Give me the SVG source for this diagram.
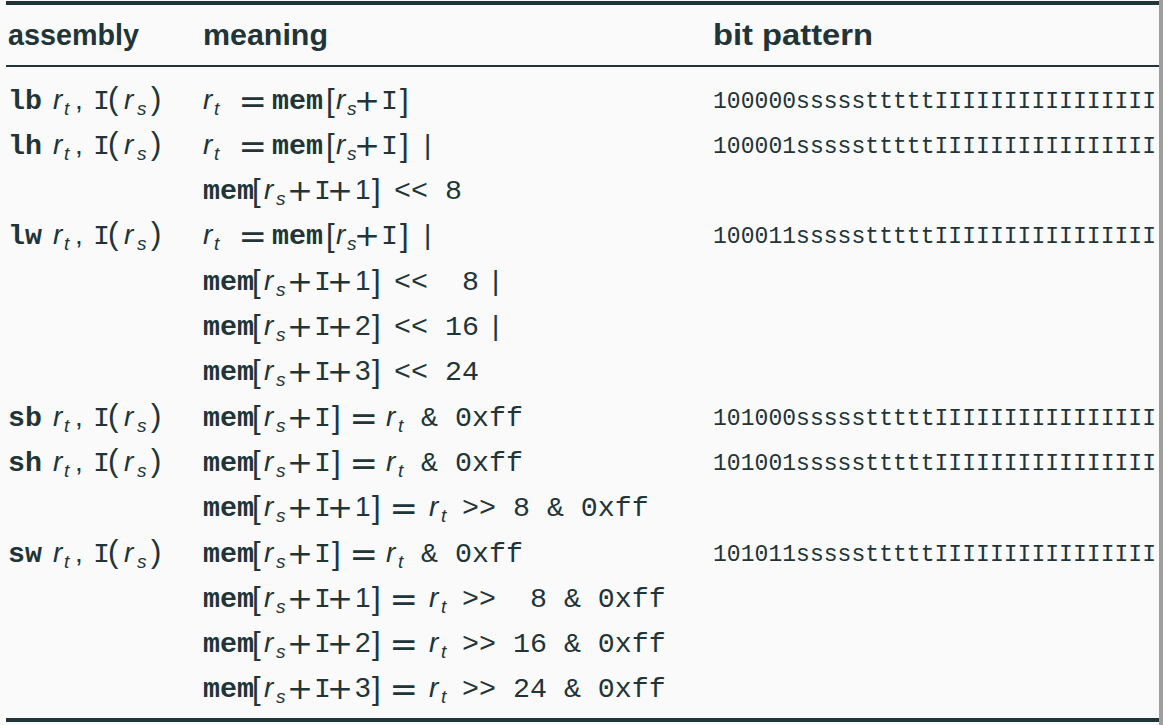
<svg xmlns="http://www.w3.org/2000/svg" width="1163" height="725" viewBox="0 0 1163 725">
<style>
text{fill:#213438;white-space:pre}
.tt{font-family:"Liberation Mono",monospace;font-size:28.3px}
.ttb{font-family:"Liberation Mono",monospace;font-size:28.3px;font-weight:bold}
.it{font-family:"Liberation Sans",sans-serif;font-style:italic;font-size:28px}
.sub{font-family:"Liberation Sans",sans-serif;font-style:italic;font-size:19px}
.op{font-family:"DejaVu Sans",sans-serif;font-size:31px}
.eq{font-family:"DejaVu Sans",sans-serif;font-size:34px}
.rm{font-family:"Liberation Sans",sans-serif;font-size:28px}
.br{font-family:"Liberation Sans",sans-serif;font-size:31px}
.hd{font-family:"Liberation Sans",sans-serif;font-size:30px;font-weight:bold}
.bits{font-family:"Liberation Mono",monospace;font-size:23px}
.rule{fill:#213438}
</style>
<rect width="1163" height="725" fill="#fafafa"/>
<rect x="1159" y="0" width="4" height="725" fill="#9e9e9e"/>
<g id="rules">
<rect class="rule" x="6" y="1" width="1153" height="4"/>
<rect class="rule" x="6" y="65" width="1153" height="2"/>
<rect class="rule" x="6" y="718" width="1153" height="4"/>
</g>
<g id="header">
<text class="hd" x="8" y="45" textLength="131" lengthAdjust="spacingAndGlyphs">assembly</text>
<text class="hd" x="203" y="45" textLength="125" lengthAdjust="spacingAndGlyphs">meaning</text>
<text class="hd" x="713" y="45" textLength="160" lengthAdjust="spacingAndGlyphs">bit pattern</text>
</g>

<g id="row-lb">
<g transform="translate(0,108.5)">
<text><tspan class="ttb" x="8" y="0">lb</tspan><tspan class="it" x="53" y="0">r</tspan><tspan class="sub" x="64" y="6">t</tspan><tspan class="rm" x="75" y="0">,</tspan><tspan class="tt" x="93" y="0">I</tspan><tspan class="br" x="108" y="0">(</tspan><tspan class="it" x="124" y="0">r</tspan><tspan class="sub" x="137" y="6">s</tspan><tspan class="br" x="151" y="0">)</tspan></text>
<text><tspan class="it" x="203" y="0">r</tspan><tspan class="sub" x="214" y="6">t</tspan><tspan class="eq" x="238.5" y="4">=</tspan><tspan class="ttb" x="272" y="0">mem</tspan><tspan class="br" x="326" y="2">[</tspan><tspan class="it" x="336" y="0">r</tspan><tspan class="sub" x="347" y="6">s</tspan><tspan class="op" x="354" y="2">+</tspan><tspan class="tt" x="381" y="0">I</tspan><tspan class="br" x="400" y="2">]</tspan></text>
<text class="bits" x="713" y="-1" textLength="443" lengthAdjust="spacing">100000ssssstttttIIIIIIIIIIIIIIII</text>
</g>
</g>

<g id="row-lh">
<g transform="translate(0,153.8)">
<text><tspan class="ttb" x="8" y="0">lh</tspan><tspan class="it" x="53" y="0">r</tspan><tspan class="sub" x="64" y="6">t</tspan><tspan class="rm" x="75" y="0">,</tspan><tspan class="tt" x="93" y="0">I</tspan><tspan class="br" x="108" y="0">(</tspan><tspan class="it" x="124" y="0">r</tspan><tspan class="sub" x="137" y="6">s</tspan><tspan class="br" x="151" y="0">)</tspan></text>
<text><tspan class="it" x="203" y="0">r</tspan><tspan class="sub" x="214" y="6">t</tspan><tspan class="eq" x="238.5" y="4">=</tspan><tspan class="ttb" x="272" y="0">mem</tspan><tspan class="br" x="326" y="2">[</tspan><tspan class="it" x="336" y="0">r</tspan><tspan class="sub" x="347" y="6">s</tspan><tspan class="op" x="354" y="2">+</tspan><tspan class="tt" x="381" y="0">I</tspan><tspan class="br" x="400" y="2">]</tspan><tspan class="rm" x="424" y="0">|</tspan></text>
<text class="bits" x="713" y="-1" textLength="443" lengthAdjust="spacing">100001ssssstttttIIIIIIIIIIIIIIII</text>
</g>
<g transform="translate(0,199.1)">
<text><tspan class="ttb" x="203" y="0">mem</tspan><tspan class="br" x="252" y="2">[</tspan><tspan class="it" x="264" y="0">r</tspan><tspan class="sub" x="276" y="6">s</tspan><tspan class="op" x="287" y="2">+</tspan><tspan class="tt" x="314" y="0">I</tspan><tspan class="op" x="327" y="2">+</tspan><tspan class="rm" x="355" y="0">1</tspan><tspan class="br" x="372" y="2">]</tspan><tspan class="tt" x="394" y="0">&lt;&lt; 8</tspan></text>
</g>
</g>

<g id="row-lw">
<g transform="translate(0,244.4)">
<text><tspan class="ttb" x="8" y="0">lw</tspan><tspan class="it" x="53" y="0">r</tspan><tspan class="sub" x="64" y="6">t</tspan><tspan class="rm" x="75" y="0">,</tspan><tspan class="tt" x="93" y="0">I</tspan><tspan class="br" x="108" y="0">(</tspan><tspan class="it" x="124" y="0">r</tspan><tspan class="sub" x="137" y="6">s</tspan><tspan class="br" x="151" y="0">)</tspan></text>
<text><tspan class="it" x="203" y="0">r</tspan><tspan class="sub" x="214" y="6">t</tspan><tspan class="eq" x="238.5" y="4">=</tspan><tspan class="ttb" x="272" y="0">mem</tspan><tspan class="br" x="326" y="2">[</tspan><tspan class="it" x="336" y="0">r</tspan><tspan class="sub" x="347" y="6">s</tspan><tspan class="op" x="354" y="2">+</tspan><tspan class="tt" x="381" y="0">I</tspan><tspan class="br" x="400" y="2">]</tspan><tspan class="rm" x="424" y="0">|</tspan></text>
<text class="bits" x="713" y="-1" textLength="443" lengthAdjust="spacing">100011ssssstttttIIIIIIIIIIIIIIII</text>
</g>
<g transform="translate(0,289.7)">
<text><tspan class="ttb" x="203" y="0">mem</tspan><tspan class="br" x="252" y="2">[</tspan><tspan class="it" x="264" y="0">r</tspan><tspan class="sub" x="276" y="6">s</tspan><tspan class="op" x="287" y="2">+</tspan><tspan class="tt" x="314" y="0">I</tspan><tspan class="op" x="327" y="2">+</tspan><tspan class="rm" x="355" y="0">1</tspan><tspan class="br" x="372" y="2">]</tspan><tspan class="tt" x="394" y="0">&lt;&lt;  8</tspan><tspan class="rm" x="492" y="0">|</tspan></text>
</g>
<g transform="translate(0,335)">
<text><tspan class="ttb" x="203" y="0">mem</tspan><tspan class="br" x="252" y="2">[</tspan><tspan class="it" x="264" y="0">r</tspan><tspan class="sub" x="276" y="6">s</tspan><tspan class="op" x="287" y="2">+</tspan><tspan class="tt" x="314" y="0">I</tspan><tspan class="op" x="327" y="2">+</tspan><tspan class="rm" x="355" y="0">2</tspan><tspan class="br" x="372" y="2">]</tspan><tspan class="tt" x="394" y="0">&lt;&lt; 16</tspan><tspan class="rm" x="492" y="0">|</tspan></text>
</g>
<g transform="translate(0,380.3)">
<text><tspan class="ttb" x="203" y="0">mem</tspan><tspan class="br" x="252" y="2">[</tspan><tspan class="it" x="264" y="0">r</tspan><tspan class="sub" x="276" y="6">s</tspan><tspan class="op" x="287" y="2">+</tspan><tspan class="tt" x="314" y="0">I</tspan><tspan class="op" x="327" y="2">+</tspan><tspan class="rm" x="355" y="0">3</tspan><tspan class="br" x="372" y="2">]</tspan><tspan class="tt" x="394" y="0">&lt;&lt; 24</tspan></text>
</g>
</g>

<g id="row-sb">
<g transform="translate(0,425.6)">
<text><tspan class="ttb" x="8" y="0">sb</tspan><tspan class="it" x="53" y="0">r</tspan><tspan class="sub" x="64" y="6">t</tspan><tspan class="rm" x="75" y="0">,</tspan><tspan class="tt" x="93" y="0">I</tspan><tspan class="br" x="108" y="0">(</tspan><tspan class="it" x="124" y="0">r</tspan><tspan class="sub" x="137" y="6">s</tspan><tspan class="br" x="151" y="0">)</tspan></text>
<text><tspan class="ttb" x="203" y="0">mem</tspan><tspan class="br" x="252" y="2">[</tspan><tspan class="it" x="264" y="0">r</tspan><tspan class="sub" x="276" y="6">s</tspan><tspan class="op" x="287" y="2">+</tspan><tspan class="tt" x="314" y="0">I</tspan><tspan class="br" x="332" y="2">]</tspan><tspan class="eq" x="349.5" y="4">=</tspan><tspan class="it" x="386" y="0">r</tspan><tspan class="sub" x="398" y="6">t</tspan><tspan class="tt" x="421" y="0">&amp; 0xff</tspan></text>
<text class="bits" x="713" y="-1" textLength="443" lengthAdjust="spacing">101000ssssstttttIIIIIIIIIIIIIIII</text>
</g>
</g>

<g id="row-sh">
<g transform="translate(0,470.9)">
<text><tspan class="ttb" x="8" y="0">sh</tspan><tspan class="it" x="53" y="0">r</tspan><tspan class="sub" x="64" y="6">t</tspan><tspan class="rm" x="75" y="0">,</tspan><tspan class="tt" x="93" y="0">I</tspan><tspan class="br" x="108" y="0">(</tspan><tspan class="it" x="124" y="0">r</tspan><tspan class="sub" x="137" y="6">s</tspan><tspan class="br" x="151" y="0">)</tspan></text>
<text><tspan class="ttb" x="203" y="0">mem</tspan><tspan class="br" x="252" y="2">[</tspan><tspan class="it" x="264" y="0">r</tspan><tspan class="sub" x="276" y="6">s</tspan><tspan class="op" x="287" y="2">+</tspan><tspan class="tt" x="314" y="0">I</tspan><tspan class="br" x="332" y="2">]</tspan><tspan class="eq" x="349.5" y="4">=</tspan><tspan class="it" x="386" y="0">r</tspan><tspan class="sub" x="398" y="6">t</tspan><tspan class="tt" x="421" y="0">&amp; 0xff</tspan></text>
<text class="bits" x="713" y="-1" textLength="443" lengthAdjust="spacing">101001ssssstttttIIIIIIIIIIIIIIII</text>
</g>
<g transform="translate(0,516.2)">
<text><tspan class="ttb" x="203" y="0">mem</tspan><tspan class="br" x="252" y="2">[</tspan><tspan class="it" x="264" y="0">r</tspan><tspan class="sub" x="276" y="6">s</tspan><tspan class="op" x="287" y="2">+</tspan><tspan class="tt" x="314" y="0">I</tspan><tspan class="op" x="327" y="2">+</tspan><tspan class="rm" x="355" y="0">1</tspan><tspan class="br" x="372" y="2">]</tspan><tspan class="eq" x="389.5" y="4">=</tspan><tspan class="it" x="429" y="0">r</tspan><tspan class="sub" x="441" y="6">t</tspan><tspan class="tt" x="462" y="0">&gt;&gt; 8 &amp; 0xff</tspan></text>
</g>
</g>

<g id="row-sw">
<g transform="translate(0,561.5)">
<text><tspan class="ttb" x="8" y="0">sw</tspan><tspan class="it" x="53" y="0">r</tspan><tspan class="sub" x="64" y="6">t</tspan><tspan class="rm" x="75" y="0">,</tspan><tspan class="tt" x="93" y="0">I</tspan><tspan class="br" x="108" y="0">(</tspan><tspan class="it" x="124" y="0">r</tspan><tspan class="sub" x="137" y="6">s</tspan><tspan class="br" x="151" y="0">)</tspan></text>
<text><tspan class="ttb" x="203" y="0">mem</tspan><tspan class="br" x="252" y="2">[</tspan><tspan class="it" x="264" y="0">r</tspan><tspan class="sub" x="276" y="6">s</tspan><tspan class="op" x="287" y="2">+</tspan><tspan class="tt" x="314" y="0">I</tspan><tspan class="br" x="332" y="2">]</tspan><tspan class="eq" x="349.5" y="4">=</tspan><tspan class="it" x="386" y="0">r</tspan><tspan class="sub" x="398" y="6">t</tspan><tspan class="tt" x="421" y="0">&amp; 0xff</tspan></text>
<text class="bits" x="713" y="-1" textLength="443" lengthAdjust="spacing">101011ssssstttttIIIIIIIIIIIIIIII</text>
</g>
<g transform="translate(0,606.8)">
<text><tspan class="ttb" x="203" y="0">mem</tspan><tspan class="br" x="252" y="2">[</tspan><tspan class="it" x="264" y="0">r</tspan><tspan class="sub" x="276" y="6">s</tspan><tspan class="op" x="287" y="2">+</tspan><tspan class="tt" x="314" y="0">I</tspan><tspan class="op" x="327" y="2">+</tspan><tspan class="rm" x="355" y="0">1</tspan><tspan class="br" x="372" y="2">]</tspan><tspan class="eq" x="389.5" y="4">=</tspan><tspan class="it" x="429" y="0">r</tspan><tspan class="sub" x="441" y="6">t</tspan><tspan class="tt" x="462" y="0">&gt;&gt;  8 &amp; 0xff</tspan></text>
</g>
<g transform="translate(0,652.1)">
<text><tspan class="ttb" x="203" y="0">mem</tspan><tspan class="br" x="252" y="2">[</tspan><tspan class="it" x="264" y="0">r</tspan><tspan class="sub" x="276" y="6">s</tspan><tspan class="op" x="287" y="2">+</tspan><tspan class="tt" x="314" y="0">I</tspan><tspan class="op" x="327" y="2">+</tspan><tspan class="rm" x="355" y="0">2</tspan><tspan class="br" x="372" y="2">]</tspan><tspan class="eq" x="389.5" y="4">=</tspan><tspan class="it" x="429" y="0">r</tspan><tspan class="sub" x="441" y="6">t</tspan><tspan class="tt" x="462" y="0">&gt;&gt; 16 &amp; 0xff</tspan></text>
</g>
<g transform="translate(0,697.4)">
<text><tspan class="ttb" x="203" y="0">mem</tspan><tspan class="br" x="252" y="2">[</tspan><tspan class="it" x="264" y="0">r</tspan><tspan class="sub" x="276" y="6">s</tspan><tspan class="op" x="287" y="2">+</tspan><tspan class="tt" x="314" y="0">I</tspan><tspan class="op" x="327" y="2">+</tspan><tspan class="rm" x="355" y="0">3</tspan><tspan class="br" x="372" y="2">]</tspan><tspan class="eq" x="389.5" y="4">=</tspan><tspan class="it" x="429" y="0">r</tspan><tspan class="sub" x="441" y="6">t</tspan><tspan class="tt" x="462" y="0">&gt;&gt; 24 &amp; 0xff</tspan></text>
</g>
</g>
</svg>
